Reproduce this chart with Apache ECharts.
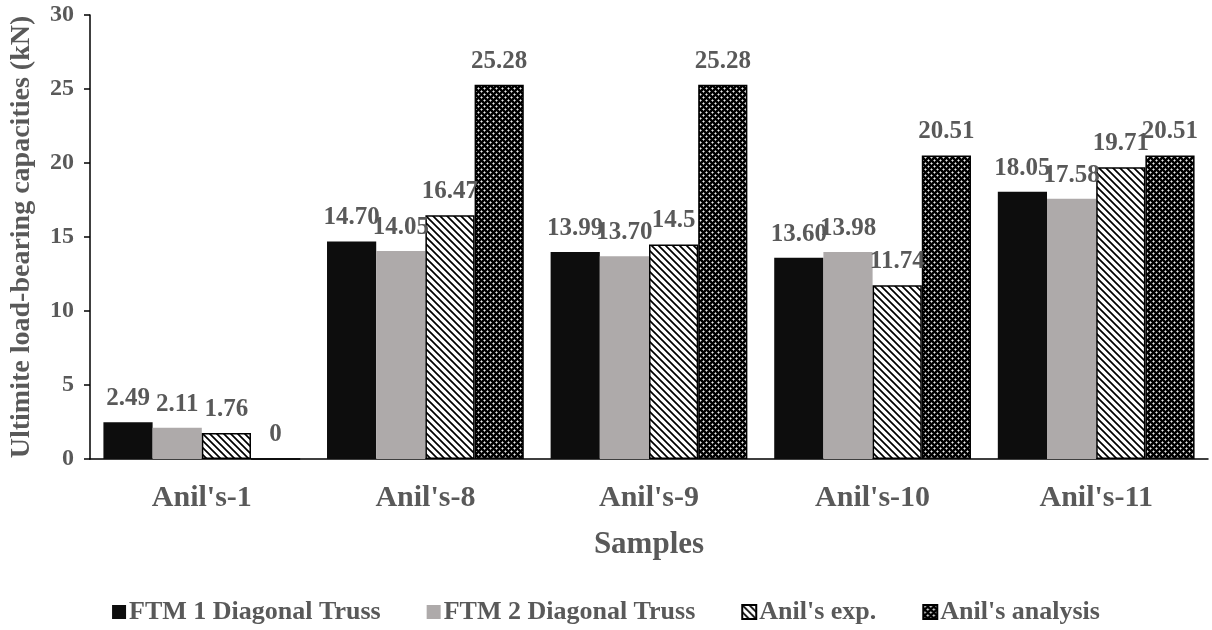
<!DOCTYPE html>
<html>
<head>
<meta charset="utf-8">
<style>
  html, body { margin: 0; padding: 0; background: #ffffff; }
  #chart { width: 1212px; height: 630px; }
</style>
<script src="https://cdn.jsdelivr.net/npm/echarts@6/dist/echarts.min.js"></script>
</head>
<body>
<div id="chart"></div>
<script>
// Sample names on the category axis
const samples = ["Anil's-1", "Anil's-8", "Anil's-9", "Anil's-10", "Anil's-11"];

// Ultimate load-bearing capacities (kN), kept as printed so labels show the same digits
const ftm1 = ['2.49', '14.70', '13.99', '13.60', '18.05'];
const ftm2 = ['2.11', '14.05', '13.70', '13.98', '17.58'];
const anilExp = ['1.76', '16.47', '14.5', '11.74', '19.71'];
const anilAnalysis = ['0', '25.28', '25.28', '20.51', '20.51'];

const seriesNames = ['FTM 1 Diagonal Truss', 'FTM 2 Diagonal Truss', "Anil's exp.", "Anil's analysis"];

// Value axis ticks
const yTicks = [0, 5, 10, 15, 20, 25, 30];

const FONT = '"Liberation Serif", "Times New Roman", serif';
const TEXT = '#595959';

// Diagonal hatch: black strokes running top-left to bottom-right on white
function hatchPattern() {
  const s = 7;
  const c = document.createElement('canvas');
  c.width = s; c.height = s;
  const g = c.getContext('2d');
  g.fillStyle = '#ffffff';
  g.fillRect(0, 0, s, s);
  g.strokeStyle = '#000000';
  g.lineWidth = 1.7;
  g.beginPath();
  for (let k = -s; k <= s; k += s) {
    g.moveTo(k - 1, -1);
    g.lineTo(k + s + 1, s + 1);
  }
  g.stroke();
  return c;
}

// Dark lattice: black ground with light dots on a diagonal grid
function latticePattern() {
  const c = document.createElement('canvas');
  c.width = 6; c.height = 6;
  const g = c.getContext('2d');
  g.fillStyle = '#000000';
  g.fillRect(0, 0, 6, 6);
  const dot = (x, y) => {
    g.fillStyle = '#8a8a8a';
    g.fillRect(x - 1, y, 3, 1);
    g.fillRect(x, y - 1, 1, 3);
    g.fillStyle = '#e8e8e8';
    g.fillRect(x, y, 1, 1);
  };
  dot(1, 1);
  dot(4, 4);
  return c;
}

const fills = [
  { color: '#0d0d0d' },
  { color: '#aeaaaa' },
  { color: { image: hatchPattern(), repeat: 'repeat' }, borderColor: '#000000', borderWidth: 1.5 },
  { color: { image: latticePattern(), repeat: 'repeat' }, borderColor: '#000000', borderWidth: 1.5 }
];

const dataSets = [ftm1, ftm2, anilExp, anilAnalysis];

const chart = echarts.init(document.getElementById('chart'), null, { renderer: 'canvas' });

chart.setOption({
  animation: false,
  backgroundColor: '#ffffff',
  textStyle: { fontFamily: FONT },
  grid: { left: 88, right: 4, top: 15, bottom: 171 },
  legend: {
    top: 594,
    left: 'center',
    itemWidth: 14,
    itemHeight: 14,
    itemGap: 46,
    icon: 'rect',
    textStyle: { fontFamily: FONT, fontSize: 26, fontWeight: 'bold', color: TEXT, padding: [0, 0, 0, -2] },
    data: seriesNames
  },
  xAxis: {
    type: 'category',
    data: samples,
    name: 'Samples',
    nameLocation: 'middle',
    nameGap: 70,
    nameTextStyle: { fontFamily: FONT, fontSize: 31, fontWeight: 'bold', color: TEXT },
    axisLine: { lineStyle: { color: '#000000', width: 1.5 } },
    axisTick: { show: false },
    axisLabel: { margin: 24, fontFamily: FONT, fontSize: 30, fontWeight: 'bold', color: TEXT }
  },
  yAxis: {
    type: 'value',
    min: yTicks[0],
    max: yTicks[yTicks.length - 1],
    interval: yTicks[1] - yTicks[0],
    name: 'Ultimite load-bearing capacities (kN)',
    nameLocation: 'middle',
    nameGap: 54,
    nameTextStyle: { fontFamily: FONT, fontSize: 28, fontWeight: 'bold', color: TEXT },
    axisLine: { show: true, lineStyle: { color: '#000000', width: 1.5 } },
    axisTick: { show: true, inside: false, length: 6, lineStyle: { color: '#000000', width: 1.5 } },
    splitLine: { show: false },
    axisLabel: { margin: 16, fontFamily: FONT, fontSize: 24, fontWeight: 'bold', color: TEXT }
  },
  series: dataSets.map((vals, i) => ({
    name: seriesNames[i],
    type: 'bar',
    barGap: '0%',
    barCategoryGap: '12%',
    data: vals,
    itemStyle: fills[i],
    label: {
      show: true,
      position: 'top',
      distance: 11,
      fontFamily: FONT,
      fontSize: 25,
      fontWeight: 'bold',
      color: TEXT,
      formatter: p => vals[p.dataIndex]
    }
  }))
});
</script>
</body>
</html>
